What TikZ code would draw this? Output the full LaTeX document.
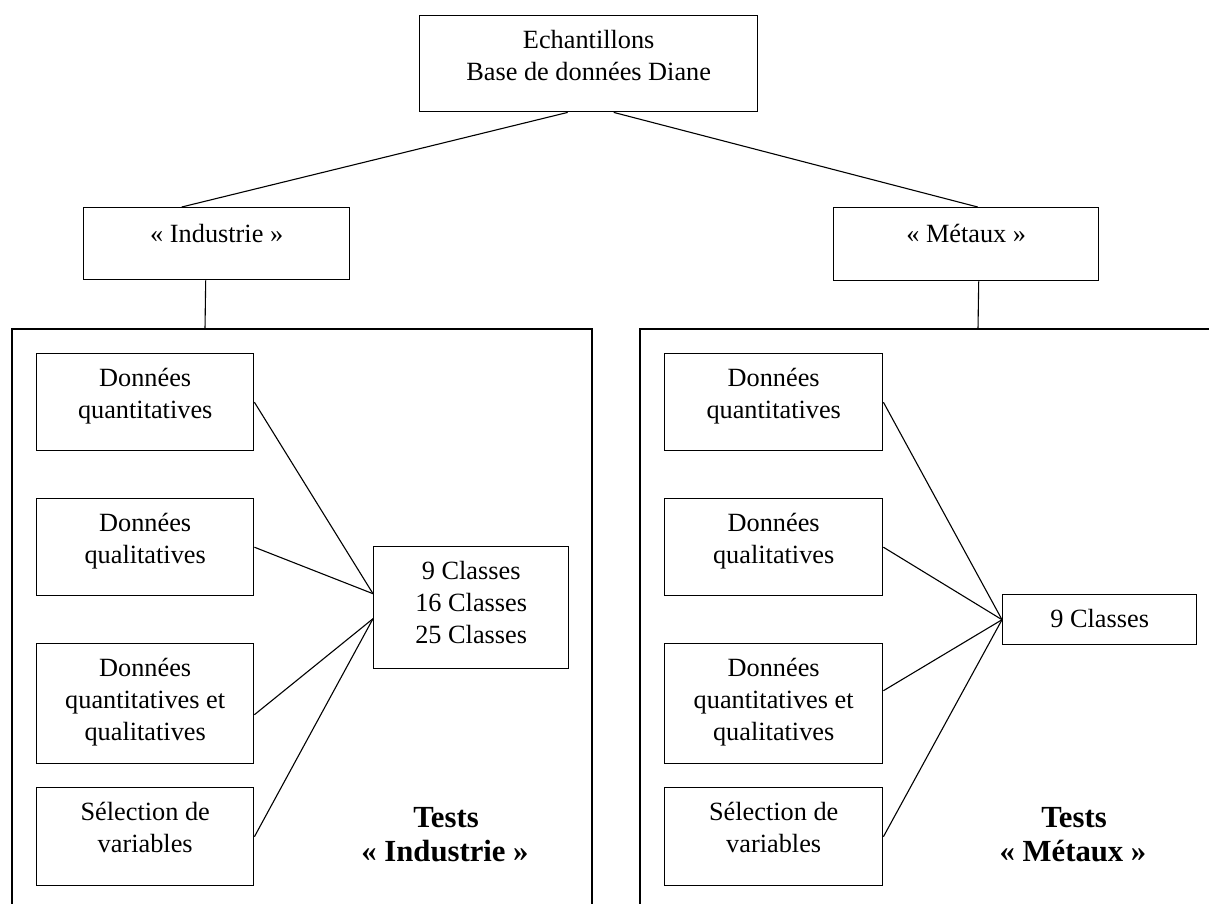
\documentclass[tikz,border=0pt]{standalone}
\usepackage{fontspec}
\setmainfont{Liberation Serif}
\usetikzlibrary{calc}
\newcommand\bxt[4]{\parbox[c][#2][t]{#1}{\fontsize{26.3}{32}\selectfont\centering\vspace*{#3}#4\par}}
\tikzset{
  box/.style={draw, line width=1.4pt, inner sep=0pt, anchor=north west},
  conn/.style={line width=1.1pt},
  frame/.style={line width=1.4pt},
  lab/.style={anchor=base, inner sep=0pt, font=\fontsize{30.7}{34}\selectfont\bfseries}
}
\begin{document}
\begin{tikzpicture}[x=1pt,y=-1pt]
\useasboundingbox (0,0) rectangle (1209,903);
\clip (0,0) rectangle (1209,903);
% top level
\node[box] (top) at (419,15) {\bxt{338pt}{96pt}{10.6pt}{\strut Echantillons\\\strut Base de données Diane}};
\node[box] (ind) at (83,207) {\bxt{266pt}{72pt}{12.6pt}{\strut « Industrie »}};
\node[box] (met) at (833,207) {\bxt{265pt}{73pt}{12.6pt}{\strut « Métaux »}};
\draw[conn] ($(top.south)+(-21,0)$) -- ($(ind.north)+(-35,0)$);
\draw[conn] ($(top.south)+(25,0)$) -- ($(met.north)+(11.5,0)$);
% containers
\coordinate (ltop) at (205,329);
\coordinate (rtop) at (978,329);
\draw[frame] (12,915) -- (12,329) -- (592,329) -- (592,915);
\draw[frame] (640,915) -- (640,329) -- (1220,329);
\draw[conn] ($(ind.south)+(-11,0)$) -- (ltop);
\draw[conn] ($(met.south)+(12.5,0)$) -- (rtop);
% left group
\node[box] (L1) at (36,353) {\bxt{217pt}{97pt}{10.6pt}{\strut Données\\\strut quantitatives}};
\node[box] (L2) at (36,498) {\bxt{217pt}{97pt}{10.6pt}{\strut Données\\\strut qualitatives}};
\node[box] (L3) at (36,643) {\bxt{217pt}{120pt}{10.6pt}{\strut Données\\\strut quantitatives et\\\strut qualitatives}};
\node[box] (L4) at (36,787) {\bxt{217pt}{98pt}{10.6pt}{\strut Sélection de\\\strut variables}};
\node[box] (LC) at (373,546) {\bxt{195pt}{122pt}{10.6pt}{\strut 9 Classes\\\strut 16 Classes\\\strut 25 Classes}};
\draw[conn] (L1.east) -- ($(LC.west)+(0,-14)$);
\draw[conn] (L2.east) -- ($(LC.west)+(0,-14)$);
\draw[conn] ($(L3.east)+(0,11)$) -- ($(LC.west)+(0,11)$);
\draw[conn] (L4.east) -- ($(LC.west)+(0,11)$);
\node[lab] (LT1) at (446,827) {Tests};
\node[lab] (LT2) at (445,861) {« Industrie »};
% right group
\node[box] (R1) at (664,353) {\bxt{218pt}{97pt}{10.6pt}{\strut Données\\\strut quantitatives}};
\node[box] (R2) at (664,498) {\bxt{218pt}{97pt}{10.6pt}{\strut Données\\\strut qualitatives}};
\node[box] (R3) at (664,643) {\bxt{218pt}{120pt}{10.6pt}{\strut Données\\\strut quantitatives et\\\strut qualitatives}};
\node[box] (R4) at (664,787) {\bxt{218pt}{98pt}{10.6pt}{\strut Sélection de\\\strut variables}};
\node[box] (RC) at (1002,594) {\bxt{194pt}{50pt}{10.6pt}{\strut 9 Classes}};
\draw[conn] (R1.east) -- (RC.west);
\draw[conn] (R2.east) -- (RC.west);
\draw[conn] ($(R3.east)+(0,-13)$) -- (RC.west);
\draw[conn] (R4.east) -- (RC.west);
\node[lab] (RT1) at (1074,827) {Tests};
\node[lab] (RT2) at (1073,861) {« Métaux »};
\end{tikzpicture}
\end{document}
